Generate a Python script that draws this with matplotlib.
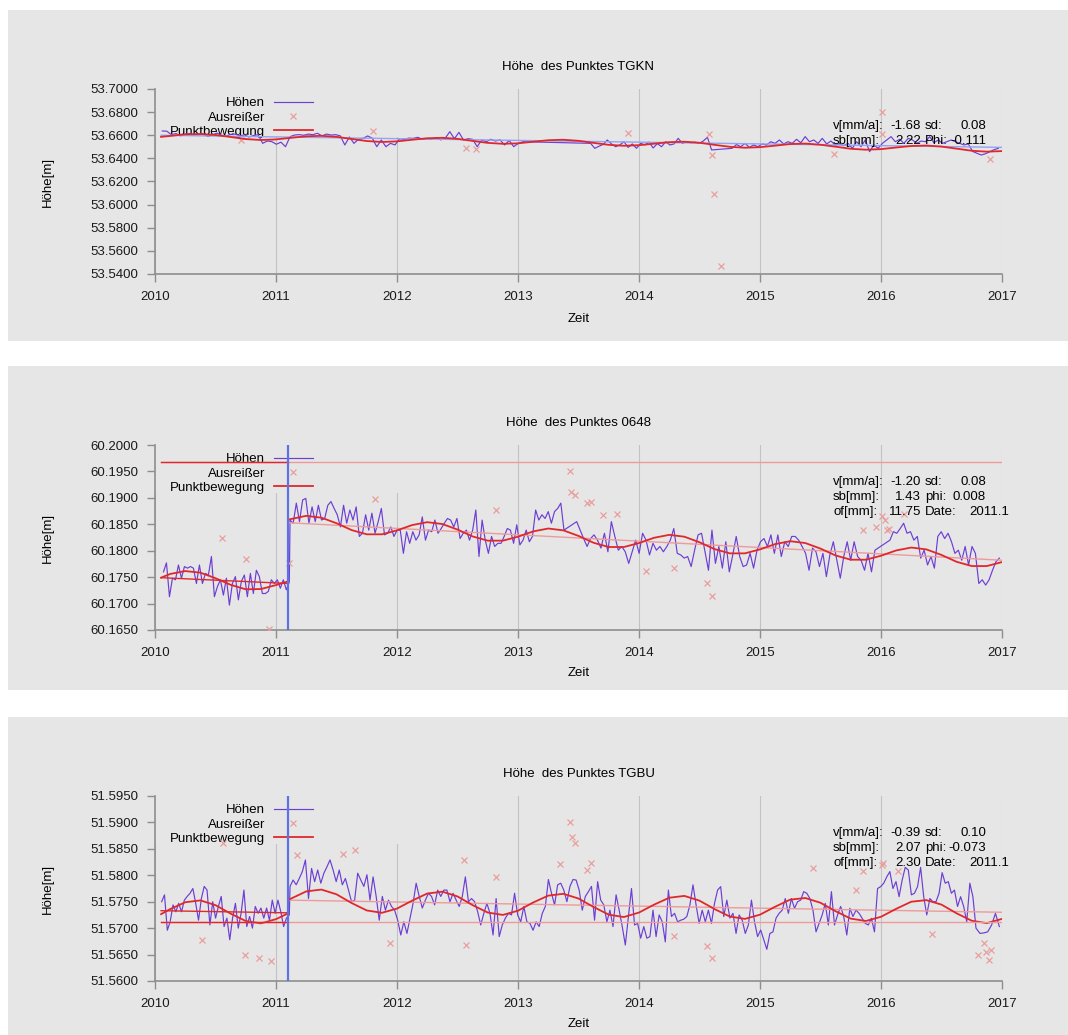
"""Höhenzeitreihen der Punkte TGKN, 0648 und TGBU mit Ausreißern und Punktbewegung."""
import matplotlib
matplotlib.use("Agg")
import matplotlib.pyplot as plt
import numpy as np
from matplotlib.patches import Rectangle
from matplotlib.ticker import FormatStrFormatter

plt.rcParams["font.family"] = ["Liberation Sans", "DejaVu Sans"]
plt.rcParams["font.size"] = 9.5

YEARS = [2010, 2011, 2012, 2013, 2014, 2015, 2016, 2017]
BREAK_DATE = 2011.1
MODEL_START, MODEL_END = 2010.05, 2017.0

# ---- TGKN: heights in mm above 53.64 m ---------------------------------
TGKN_BASE = 53.64
TGKN_YTICKS = [53.54, 53.56, 53.58, 53.60, 53.62, 53.64, 53.66, 53.68, 53.70]
TGKN_HOEHEN = [
    (2010.06, 2013.04, [23.7, 23.5, 20.5, 21.5, 19.5, 20.8, 21.5, 19.8, 20.5, 21.2, 19.0, 20.5, 21.8, 20.0,
                        19.2, 20.8, 21.0, 19.5, 20.3, 18.5, 19.8, 20.5, 13.0, 15.0, 14.5, 12.2, 14.0, 10.1,
                        18.8, 20.2, 20.5, 20.0, 21.0, 20.5, 21.7, 19.5, 21.0, 20.2, 20.5, 19.5, 11.6, 18.5,
                        13.0, 16.5, 17.3, 19.4, 17.5, 10.1, 15.9, 10.1, 13.0, 11.6, 17.0, 16.5, 17.5, 17.3,
                        18.2, 16.5, 17.0, 16.5, 18.0, 16.0, 17.5, 23.1, 17.0, 22.5, 15.9, 17.0, 16.5, 10.1,
                        16.0, 14.4, 16.5, 15.0, 16.0, 11.6, 15.5, 10.1, 13.0, 14.4]),
    (2013.60, 2014.60, [13.0, 8.7, 10.5, 12.0, 15.9, 12.5, 10.1, 11.6, 14.4, 9.5, 12.5, 8.7, 13.0, 11.6, 14.0,
                        9.0, 12.8, 10.1, 14.4, 11.6, 12.5, 17.3, 13.0, 14.4, 13.5, 14.0, 13.0, 15.0, 18.2, 7.3]),
    (2014.77, 2016.97, [8.7, 12.0, 10.1, 13.0, 9.5, 11.6, 10.1, 12.5, 11.6, 14.4, 13.0, 15.9, 12.5, 14.4, 13.0,
                        16.5, 13.5, 18.8, 14.4, 15.9, 13.0, 17.3, 12.5, 15.0, 11.6, 12.5, 11.0, 13.0, 8.7, 14.4,
                        10.1, 15.9, 5.8, 11.6, 8.7, 13.0, 15.9, 18.8, 14.4, 16.5, 13.0, 17.3, 15.9, 13.0, 15.0,
                        14.4, 18.8, 13.5, 15.9, 13.0, 14.4, 15.9, 14.4, 13.0, 11.6, 12.5, 6.0, 4.5, 2.9, 4.0,
                        5.8, 7.5, 8.7]),
]
TGKN_OUT_T = [2010.71, 2011.80, 2012.57, 2012.65, 2013.91, 2014.58, 2014.60, 2014.62, 2014.675, 2015.61,
              2016.01, 2016.005, 2016.90]
TGKN_OUT_MM = [15.5, 23.7, 8.7, 7.8, 21.6, 21.1, 2.9, -30.8, -93.1, 3.8, 40.4, 21.1, -0.5]
TGKN_MODEL = [18.6,
              19.4, 20.8, 21.1, 20.2, 18.5, 16.7, 15.9,
              16.4, 17.8, 19.1, 19.5, 18.6, 16.8, 15.0, 14.2,
              14.7, 16.1, 17.4, 17.8, 16.9, 15.1, 13.4, 12.6,
              13.0, 14.4, 15.7, 16.1, 15.2, 13.4, 11.7, 10.9,
              11.4, 12.7, 14.0, 14.4, 13.5, 11.7, 10.0, 9.2,
              9.7, 11.0, 12.4, 12.8, 11.8, 10.1, 8.3, 7.5,
              8.0, 9.4, 10.7, 11.1, 10.2, 8.4, 6.6, 5.8,
              6.3]
TGKN_TREND = [20.0, 9.5]
TGKN_STATS = [("v[mm/a]:", "-1.68", "sd:", "0.08"), ("sb[mm]:", "2.22", "Phi:", "-0.111")]

# ---- 0648: heights in mm above 60.17 m ---------------------------------
P0648_BASE = 60.17
P0648_YTICKS = [60.165, 60.170, 60.175, 60.180, 60.185, 60.190, 60.195, 60.200]
P0648_HOEHEN = [
    (2010.07, 2011.11, [6.0, 7.7, 1.3, 4.8, 4.5, 7.3, 4.8, 7.0, 6.7, 7.0, 6.7, 3.8, 7.3, 3.8, 5.7, 5.4, 8.9,
                        1.3, 3.2, 4.5, 1.6, 4.8, -0.3, 3.8, 5.1, 0.7, 4.2, 5.4, 1.3, 5.7, 1.9, 6.3, 5.1, 1.9,
                        1.9, 2.3, 4.5, 3.8, 4.5, 2.9, 4.5, 2.6, 4.1]),
    (2011.116, 2013.38, [15.8, 15.2, 19.0, 15.5, 19.6, 19.9, 15.2, 18.3, 15.5, 18.6, 15.8, 16.1, 18.6, 19.3,
                         18.0, 16.8, 14.5, 18.6, 15.2, 17.7, 15.8, 18.3, 12.7, 13.3, 16.8, 13.9, 17.1, 13.3,
                         15.5, 18.0, 13.0, 13.3, 14.5, 12.7, 13.9, 13.9, 9.5, 13.6, 11.4, 13.6, 12.0, 13.0,
                         16.4, 12.0, 13.9, 13.6, 15.8, 13.3, 14.2, 15.2, 16.1, 15.8, 14.5, 16.1, 12.3, 13.3,
                         13.9, 12.0, 13.9, 17.7, 8.9, 15.8, 12.0, 9.5, 12.7, 10.8, 11.4, 11.4, 12.7, 14.2,
                         13.9, 11.4, 14.9, 11.1, 12.0, 13.9, 11.7, 12.7, 17.7, 15.8, 16.8, 16.1, 17.4, 15.2,
                         17.4, 18.0, 19.0, 13.9]),
    (2013.485, 2015.95, [15.5, 13.9, 12.3, 10.8, 12.3, 13.0, 12.0, 10.5, 13.3, 9.8, 15.5, 12.7, 10.1, 10.8,
                         9.8, 7.6, 9.8, 12.0, 9.5, 13.3, 12.0, 9.2, 11.4, 10.1, 10.8, 9.8, 10.8, 12.0, 14.2,
                         9.5, 9.2, 8.6, 8.9, 7.0, 10.1, 13.0, 13.3, 9.8, 6.3, 13.9, 7.6, 10.8, 6.7, 11.7, 6.0,
                         9.2, 12.7, 8.9, 7.0, 7.3, 9.5, 6.7, 10.1, 11.7, 12.3, 10.8, 13.0, 9.5, 13.0, 8.9,
                         11.7, 10.8, 12.7, 12.7, 12.0, 10.8, 9.5, 6.3, 10.5, 9.8, 7.0, 9.5, 5.1, 9.2, 11.7,
                         8.2, 4.8, 8.9, 11.7, 8.2, 11.7, 8.9, 8.2, 6.3, 9.5, 6.0, 10.1]),
    (2016.074, 2016.978, [12.0, 13.6, 13.3, 14.2, 15.2, 13.3, 13.6, 12.0, 12.7, 8.6, 10.1, 7.3, 8.9, 6.7, 12.7,
                          13.6, 12.3, 13.3, 11.7, 9.5, 10.1, 8.2, 10.8, 7.3, 10.8, 9.5, 3.8, 4.5, 3.5, 4.5,
                          6.3, 7.9, 8.6]),
]
P0648_OUT_T = [2010.55, 2010.75, 2010.94, 2011.11, 2011.82, 2012.82, 2013.43, 2013.44, 2013.47, 2013.57,
               2013.60, 2013.70, 2013.82, 2014.06, 2014.29, 2014.56, 2014.60, 2015.85, 2015.96, 2016.005,
               2016.03, 2016.05, 2016.07, 2016.19]
P0648_OUT_MM = [12.35, 8.4, -4.9, 7.7, 19.7, 17.7, 25.1, 21.2, 20.5, 19.0, 19.3, 16.8, 17.0, 6.2, 6.7, 3.8,
                1.5, 13.9, 14.55, 16.6, 15.9, 13.9, 14.1, 17.0]
P0648_MODEL_PRE = [4.9, 5.6, 6.15, 5.85, 4.8, 3.55, 2.7, 2.75, 3.5, 4.2]
P0648_MODEL_POST = [15.85,
                    16.0, 16.6, 16.25, 15.2, 13.9, 13.1, 13.1,
                    13.85, 14.85, 15.4, 15.05, 14.0, 12.7, 11.9, 11.9,
                    12.65, 13.65, 14.2, 13.85, 12.8, 11.5, 10.7, 10.7,
                    11.45, 12.45, 13.0, 12.65, 11.6, 10.3, 9.5, 9.5,
                    10.25, 11.25, 11.8, 11.45, 10.4, 9.1, 8.3, 8.3,
                    9.05, 10.05, 10.6, 10.25, 9.2, 7.9, 7.1, 7.1,
                    7.85]
P0648_TREND_PRE = [4.9, 3.8]
P0648_TREND_POST = [15.3, 8.2]
P0648_LEVEL = 26.7
P0648_STATS = [("v[mm/a]:", "-1.20", "sd:", "0.08"), ("sb[mm]:", "1.43", "phi:", "0.008"),
               ("of[mm]:", "11.75", "Date:", "2011.1")]

# ---- TGBU: heights in mm above 51.56 m ---------------------------------
TGBU_BASE = 51.56
TGBU_YTICKS = [51.560, 51.565, 51.570, 51.575, 51.580, 51.585, 51.590, 51.595]
TGBU_HOEHEN = [
    (2010.055, 2011.11, [15.0, 16.3, 9.6, 11.2, 14.4, 13.1, 14.7, 13.1, 15.3, 16.0, 16.6, 17.5, 14.7, 11.5,
                         15.6, 17.9, 17.2, 10.6, 15.0, 11.9, 14.1, 16.0, 10.3, 11.9, 7.8, 11.9, 14.7, 10.0,
                         12.8, 17.2, 10.3, 12.2, 10.0, 14.1, 12.8, 13.8, 11.9, 13.8, 11.5, 15.3, 12.8, 15.3,
                         13.1, 10.3, 11.9, 12.5]),
    (2011.116, 2016.785, [17.9, 19.1, 18.2, 19.4, 20.7, 22.9, 15.6, 21.3, 18.8, 21.0, 18.5, 20.4, 21.6, 22.9,
                          21.0, 18.8, 21.0, 18.2, 19.4, 17.2, 15.0, 15.3, 20.4, 19.1, 17.9, 20.1, 15.3, 19.7,
                          16.0, 11.5, 16.0, 13.4, 15.3, 14.1, 13.4, 11.5, 8.7, 11.2, 9.0, 11.9, 14.7, 18.5,
                          16.0, 13.8, 15.3, 16.6, 16.0, 14.4, 17.2, 16.0, 17.2, 17.2, 15.0, 16.6, 15.3, 14.1,
                          16.0, 19.7, 15.0, 15.6, 15.0, 13.1, 10.6, 12.8, 14.7,
                          12.8, 8.7, 15.6, 8.4, 10.6, 11.9, 12.8, 12.5, 16.6, 12.5, 11.2, 14.1, 11.2, 10.9,
                          9.6, 11.2, 10.3, 12.8, 14.1, 19.2, 16.6, 14.4, 18.2, 18.5, 17.2, 15.0, 17.9, 19.2,
                          19.1, 17.2, 13.4, 16.0, 16.9, 17.9, 11.5, 18.8, 15.3, 14.4, 11.2, 13.4, 10.3, 16.3,
                          13.4, 10.3, 6.8, 12.2, 17.5, 10.6, 10.9, 8.1, 10.3, 8.1, 8.4, 13.4, 8.4, 12.5, 11.2,
                          7.4, 17.2, 12.2, 12.8, 11.2, 11.5, 11.7, 12.2, 14.4, 18.2, 14.4, 10.9, 13.4, 11.2,
                          13.4, 10.9, 14.7, 17.2, 17.85, 12.2, 15.3, 11.9, 12.8, 9.0, 12.5, 11.5, 9.0, 10.6,
                          15.3, 11.2, 8.4, 9.65, 7.8, 6.0, 9.0, 9.3, 11.9, 12.8, 13.4, 15.6, 12.8, 15.6, 13.75,
                          15.0, 15.3, 16.9,
                          16.6, 15.6, 13.4, 9.3, 10.9, 12.5, 14.7, 10.6, 16.9, 10.6, 12.5, 14.1, 12.2, 8.7,
                          13.75, 12.2, 13.4, 12.8, 11.85, 10.9, 10.6, 11.85, 9.3, 17.5, 17.85, 18.5, 19.7,
                          20.7, 17.5, 18.8, 15.95, 19.1, 21.5, 21.0, 16.3, 16.6, 17.85, 21.5, 15.95, 12.5,
                          15.6, 15.0, 15.0, 16.6, 20.5, 18.5, 18.8, 16.6, 17.2, 14.1, 15.95, 14.1, 11.2, 18.5,
                          15.95, 10.0]),
    (2016.818, 2016.978, [9.0, 9.1, 9.3, 10.6, 12.8, 10.3]),
]
TGBU_OUT_T = [2010.39, 2010.56, 2010.74, 2010.86, 2010.96, 2011.17, 2011.55, 2011.65, 2011.94, 2012.55,
              2012.57, 2012.82, 2013.35, 2013.43, 2013.45, 2013.47, 2013.57, 2013.60, 2014.29, 2014.56,
              2014.60, 2015.44, 2015.79, 2015.85, 2016.005, 2016.02, 2016.14, 2016.42, 2016.80, 2016.85,
              2016.87, 2016.89, 2016.91]
TGBU_OUT_MM = [7.8, 26.2, 4.9, 4.3, 3.7, 23.8, 24.0, 24.8, 7.1, 22.8, 6.75, 19.7, 22.1, 30.0, 27.3, 26.2,
               21.0, 22.4, 8.5, 6.7, 4.3, 21.4, 17.2, 20.8, 21.9, 22.3, 20.9, 8.9, 4.9, 7.1, 5.4, 4.0, 5.9]
TGBU_MODEL_PRE = [12.65, 13.6, 14.9, 15.25, 14.35, 12.75, 11.35, 10.9, 11.7, 12.8]
TGBU_MODEL_POST = [15.3,
                   15.6, 16.95, 17.3, 16.4, 14.75, 13.35, 12.9,
                   13.7, 15.2, 16.55, 16.9, 16.0, 14.35, 12.95, 12.5,
                   13.3, 14.85, 16.15, 16.5, 15.6, 14.0, 12.55, 12.1,
                   12.95, 14.45, 15.75, 16.1, 15.2, 13.6, 12.2, 11.75,
                   12.55, 14.05, 15.4, 15.7, 14.8, 13.2, 11.8, 11.35,
                   12.15, 13.65, 15.0, 15.3, 14.45, 12.8, 11.4, 10.95,
                   11.75]
TGBU_TREND_PRE = [13.3, 12.9]
TGBU_TREND_POST = [15.3, 13.0]
TGBU_LEVEL = 11.1
TGBU_STATS = [("v[mm/a]:", "-0.39", "sd:", "0.10"), ("sb[mm]:", "2.07", "phi:", "-0.073"),
              ("of[mm]:", "2.30", "Date:", "2011.1")]

# ---- layout (pixels of the 1068 x 1035 picture) ---------------------------
W, H = 1068, 1035
BG = "#e6e6e6"
AX_LEFT, AX_RIGHT = 155, 1002
C_HOEHEN = "#6c3ed4"
C_OUT = "#e99c9c"
C_MODEL = "#e0282c"
C_TREND = "#ee9a9a"
C_BLUE = "#5f72e4"
C_GRID = "#c2c2c2"
C_SPINE = "#8e8e8e"


def eighths(start, end):
    """Model sample times: the start date, then every eighth of a year up to end."""
    inner = np.arange(np.floor(start * 8 + 1e-6) / 8 + 0.125, end + 1e-6, 0.125)
    return np.concatenate([[start], inner[inner > start + 1e-6]])


def hoehen_series(segments, base):
    times, values = [], []
    for start, end, mm in segments:
        times.append(np.linspace(start, end, len(mm)))
        values.append(base + np.asarray(mm) / 1000)
    return np.concatenate(times), np.concatenate(values)


def draw_panel(fig, box, ax_top, title, yticks, base, hoehen, out_t, out_mm, model_t, model_mm, stats,
               xlabel_gap=43):
    box_top, box_bottom = box
    fig.add_artist(Rectangle((8 / W, 1 - box_bottom / H), 1 - 8 / W, (box_bottom - box_top) / H,
                             transform=fig.transFigure, facecolor=BG, edgecolor="none", zorder=0))
    height = 185
    ax = fig.add_axes([AX_LEFT / W, 1 - (ax_top + height) / H, (AX_RIGHT - AX_LEFT) / W, height / H])
    ax.set_facecolor(BG)
    ax.set_xlim(YEARS[0], YEARS[-1])
    ax.set_ylim(yticks[0], yticks[-1])
    ax.set_xticks(YEARS)
    ax.set_yticks(yticks)
    ax.yaxis.set_major_formatter(FormatStrFormatter("%.4f"))
    ax.grid(axis="x", color=C_GRID, linewidth=0.8)
    ax.set_axisbelow(True)
    ax.spines[["top", "right"]].set_visible(False)
    for side in ("left", "bottom"):
        ax.spines[side].set_color(C_SPINE)
        ax.spines[side].set_linewidth(1.2)
    ax.tick_params(length=6, width=1, color=C_SPINE, pad=6, labelsize=9.5, labelcolor="#1a1a1a")

    # the legend box hides the grid lines behind it
    ax.add_patch(Rectangle((0, 1 - 48 / height), 0.35, 48 / height, transform=ax.transAxes,
                           facecolor=BG, edgecolor="none", zorder=1))

    t, h = hoehen_series(hoehen, base)
    h_line, = ax.plot(t, h, color=C_HOEHEN, linewidth=0.85, zorder=3)
    o_line, = ax.plot(out_t, base + np.asarray(out_mm) / 1000, linestyle="none", marker="x",
                      markersize=5, markeredgewidth=0.85, color=C_OUT, zorder=3)
    m_line, = ax.plot(model_t, base + np.asarray(model_mm) / 1000, color=C_MODEL, linewidth=1.3, zorder=4)

    leg = ax.legend([h_line, o_line, m_line], ["Höhen", "Ausreißer", "Punktbewegung"],
                    loc="upper left", bbox_to_anchor=(15 / 847, 1 - 8 / height), frameon=False,
                    markerfirst=False, handlelength=2.9, handletextpad=0.7, labelspacing=0.16,
                    borderpad=0, borderaxespad=0, fontsize=9.5, numpoints=1)
    leg.set_zorder(2)

    ax.text(0.5, 1 + 22 / height, title, transform=ax.transAxes, ha="center", va="center", fontsize=9.5)
    ax.text(0.5, -xlabel_gap / height, "Zeit", transform=ax.transAxes, ha="center", va="center",
            fontsize=9.5)
    ax.text((48 - AX_LEFT) / 847, 0.5, "Höhe[m]", transform=ax.transAxes, ha="center", va="center",
            rotation=90, fontsize=9.5)

    def ax_x(px):
        return (px - AX_LEFT) / 847

    for row, (lab1, val1, lab2, val2) in enumerate(stats):
        y = 1 - (37 + 15 * row) / height
        ax.text(ax_x(833), y, lab1, transform=ax.transAxes, ha="left", va="center", fontsize=9.5, zorder=6)
        ax.text(ax_x(921), y, val1, transform=ax.transAxes, ha="right", va="center", fontsize=9.5, zorder=6)
        ax.text(ax_x(925), y, lab2, transform=ax.transAxes, ha="left", va="center", fontsize=9.5, zorder=6)
        right = 1009 if lab2 == "Date:" else 986
        ax.text(ax_x(right), y, val2, transform=ax.transAxes, ha="right", va="center", fontsize=9.5, zorder=6)
    return ax


fig = plt.figure(figsize=(W / 100, H / 100), dpi=100)
fig.patch.set_facecolor("white")

# TGKN
tgkn_model_t = eighths(MODEL_START, MODEL_END)
ax1 = draw_panel(fig, (10, 341), 89, "Höhe  des Punktes TGKN", TGKN_YTICKS, TGKN_BASE, TGKN_HOEHEN,
                 TGKN_OUT_T, TGKN_OUT_MM, tgkn_model_t, TGKN_MODEL, TGKN_STATS, xlabel_gap=45)
ax1.plot([MODEL_START, MODEL_END], TGKN_BASE + np.asarray(TGKN_TREND) / 1000, color="#93a3f2",
         linewidth=1.0, zorder=3.5)

# 0648 and TGBU share the same structure with an offset at BREAK_DATE
pre_t = np.concatenate([eighths(MODEL_START, 2011.0), [BREAK_DATE]])
post_t = eighths(BREAK_DATE, MODEL_END)
for box, ax_top, title, yticks, base, hoehen, out_t, out_mm, m_pre, m_post, tr_pre, tr_post, level, stats in [
    ((366, 690), 445, "Höhe  des Punktes 0648", P0648_YTICKS, P0648_BASE, P0648_HOEHEN, P0648_OUT_T,
     P0648_OUT_MM, P0648_MODEL_PRE, P0648_MODEL_POST, P0648_TREND_PRE, P0648_TREND_POST, P0648_LEVEL,
     P0648_STATS),
    ((717, 1035), 796, "Höhe  des Punktes TGBU", TGBU_YTICKS, TGBU_BASE, TGBU_HOEHEN, TGBU_OUT_T,
     TGBU_OUT_MM, TGBU_MODEL_PRE, TGBU_MODEL_POST, TGBU_TREND_PRE, TGBU_TREND_POST, TGBU_LEVEL, TGBU_STATS),
]:
    model_t = np.concatenate([pre_t, post_t])
    model_mm = list(m_pre) + list(m_post)
    ax = draw_panel(fig, box, ax_top, title, yticks, base, hoehen, out_t, out_mm, model_t, model_mm, stats)
    mm = lambda v: base + np.asarray(v) / 1000
    ax.plot([MODEL_START, MODEL_END], mm([level, level]), color=C_TREND, linewidth=1.0, zorder=5)
    ax.plot([MODEL_START, BREAK_DATE], mm([level, level]), color=C_MODEL, linewidth=1.0, zorder=5)
    ax.plot([MODEL_START, BREAK_DATE], mm(tr_pre), color=C_MODEL, linewidth=1.0, zorder=3.5)
    ax.plot([BREAK_DATE, MODEL_END], mm(tr_post), color=C_TREND, linewidth=1.0, zorder=3.5)
    ax.axvline(BREAK_DATE, color=C_BLUE, linewidth=1.6, zorder=5)

fig.savefig("out.png", dpi=100, facecolor="white")
